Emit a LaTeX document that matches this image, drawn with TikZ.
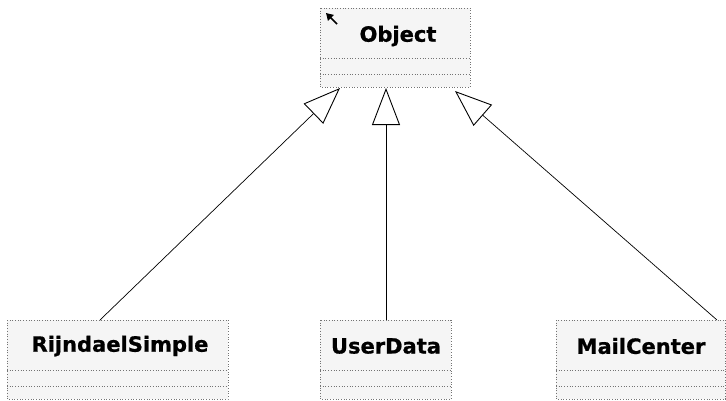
\documentclass[tikz,border=0pt]{standalone}
\usepackage{fontspec}
\setmainfont{DejaVu Sans}[BoldFeatures={FakeBold=0.8}]
\usetikzlibrary{arrows.meta}
\begin{document}
\begin{tikzpicture}[x=1pt,y=-1pt,
  classbox/.style={draw=black!55, dotted, fill=black!4, line width=0.7pt},
  sepline/.style={draw=black!55, dotted, line width=0.7pt},
  classname/.style={font=\bfseries\fontsize{21}{21}\selectfont, inner sep=0pt, anchor=center},
  inherit/.style={draw=black, line width=0.7pt, -{Triangle[open, length=37pt, width=28pt, line width=0.9pt]}}
]
\useasboundingbox (0,0) rectangle (726,400);
% superclass
\path[classbox] (320,8) rectangle (470,87);
\draw[sepline] (320,58) -- (470,58);
\draw[sepline] (320,74) -- (470,74);
\node[classname] (object) at (398,36) {Object};
% small corner arrow in the superclass box
\coordinate (cornerA) at (337,24);
\coordinate (cornerB) at (326,13);
\draw[line width=1.7pt, -{Triangle[length=7pt, width=8pt]}] (cornerA) -- (cornerB);
\coordinate (objL) at (340,88);
\coordinate (objM) at (386,88);
\coordinate (objR) at (455,91);
% subclasses
\path[classbox] (7,320) rectangle (228,399);
\draw[sepline] (7,370) -- (228,370);
\draw[sepline] (7,386) -- (228,386);
\node[classname] (rijndael) at (120,346) {RijndaelSimple};
\path[classbox] (320,320) rectangle (451,399);
\draw[sepline] (320,370) -- (451,370);
\draw[sepline] (320,386) -- (451,386);
\node[classname] (userdata) at (386,346) {UserData};
\path[classbox] (556,320) rectangle (725.5,399);
\draw[sepline] (556,370) -- (725.5,370);
\draw[sepline] (556,386) -- (725.5,386);
\node[classname] (mailcenter) at (641,346) {MailCenter};
\coordinate (rjTop) at (100,320);
\coordinate (udTop) at (386,320);
\coordinate (mcTop) at (717,320);
% generalisations
\draw[inherit] (rjTop) -- (objL);
\draw[inherit] (udTop) -- (objM);
\draw[inherit] (mcTop) -- (objR);
\end{tikzpicture}
\end{document}
